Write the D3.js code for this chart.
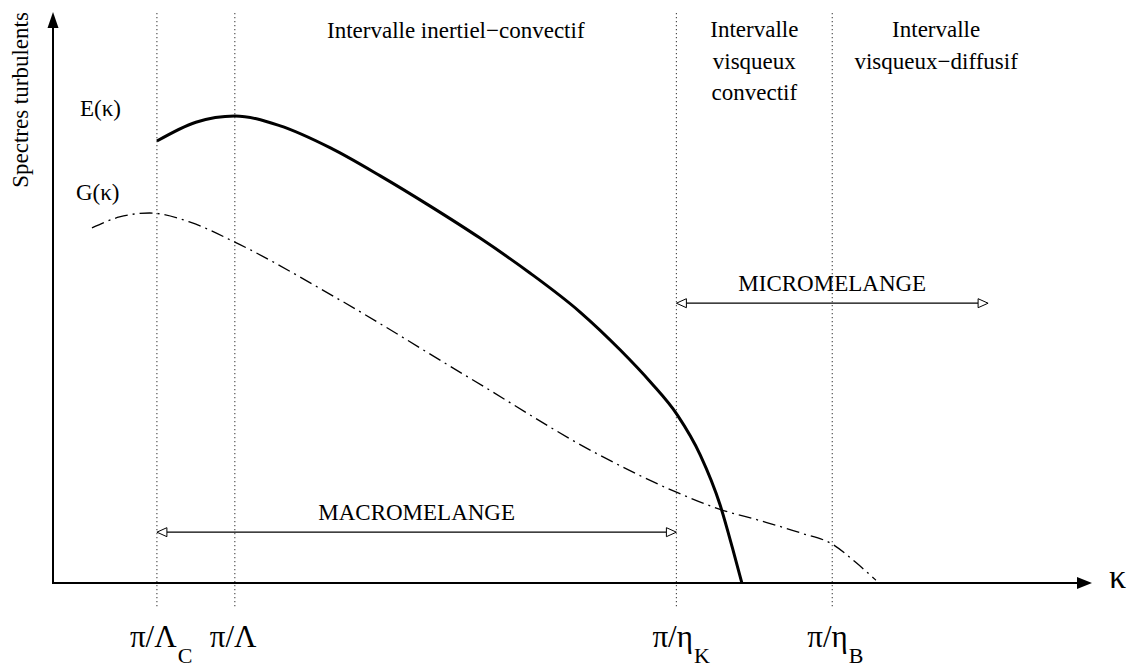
<!DOCTYPE html>
<html><head><meta charset="utf-8">
<script src="https://cdn.jsdelivr.net/npm/d3@7"></script>
<style>
html,body{margin:0;padding:0;background:#fff;}
svg{display:block;font-family:"Liberation Serif","Times New Roman",serif;}
</style></head>
<body>
<svg id="chart" width="1134" height="669"></svg>
<script>
// ---- data (abstract units: kappa 0..100, spectrum 0..100) ----
const eX = [10.0, 13.75, 17.5, 21.8, 26.7, 31.5, 36.3, 41.1, 45.9, 50.7, 54.6, 57.5, 60.1, 62.3, 64.2, 65.4, 66.3];
const eY = [77.4, 80.7, 81.8, 80.1, 76.2, 71.3, 66.0, 60.4, 54.3, 47.5, 40.8, 35.2, 29.4, 22.4, 13.7, 6.1, 0];
const gX = [3.75, 6.4, 9.3, 13.2, 17.5, 27.3, 40.1, 52.6, 60.0, 64.2, 68.1, 71.9, 75.1, 77.2, 79.2];
const gY = [62.2, 64.1, 64.8, 63.2, 59.7, 49.9, 35.9, 22.4, 15.9, 12.9, 10.9, 8.8, 6.7, 3.7, 0.5];
const markX = [10, 17.5, 60, 75];
const markMain = ["π/Λ", "π/Λ", "π/η", "π/η"];
const markSub = ["C", "", "K", "B"];
const rangeTitles = [["Intervalle inertiel−convectif"], ["Intervalle", "visqueux", "convectif"], ["Intervalle", "visqueux−diffusif"]];
const rangeCenters = [null, 67.5, 85];
const macro = {from: 10, to: 60, level: 8.9, label: "MACROMELANGE"};
const micro = {from: 60, to: 90, level: 49, label: "MICROMELANGE"};

const svg = d3.select("#chart");
const x = d3.scaleLinear().domain([0, 100]).range([53, 1092]);
const y = d3.scaleLinear().domain([0, 100]).range([583, 12]);

// dotted verticals
svg.selectAll("line.v").data(markX).join("line")
  .attr("x1", d => x(d)).attr("x2", d => x(d))
  .attr("y1", y(100) + 1).attr("y2", 607)
  .attr("stroke", "#444").attr("stroke-width", 1.1)
  .attr("stroke-dasharray", "1.3,2.7");

// axes
svg.append("line").attr("x1", x(0)).attr("x2", x(100) - 12).attr("y1", y(0)).attr("y2", y(0))
  .attr("stroke", "#000").attr("stroke-width", 2);
svg.append("line").attr("x1", x(0)).attr("x2", x(0)).attr("y1", y(0) + 1).attr("y2", y(100) + 12)
  .attr("stroke", "#000").attr("stroke-width", 2);
svg.append("path").attr("d", `M${x(100)},${y(0)} L${x(100) - 15},${y(0) - 6} L${x(100) - 15},${y(0) + 6} Z`).attr("fill", "#000");
svg.append("path").attr("d", `M${x(0)},${y(100)} L${x(0) - 5.5},${y(100) + 16} L${x(0) + 5.5},${y(100) + 16} Z`).attr("fill", "#000");

// curves
const line = d3.line().x(d => x(d[0])).y(d => y(d[1])).curve(d3.curveMonotoneX);
svg.append("path").attr("d", line(gX.map((v, i) => [v, gY[i]])))
  .attr("fill", "none").attr("stroke", "#000").attr("stroke-width", 1.3)
  .attr("stroke-dasharray", "13,5,2,5");
svg.append("path").attr("d", line(eX.map((v, i) => [v, eY[i]])))
  .attr("fill", "none").attr("stroke", "#000").attr("stroke-width", 3);

// double arrows
function dblArrow(a) {
  const yy = y(a.level), x1 = x(a.from), x2 = x(a.to);
  svg.append("line").attr("x1", x1 + 10).attr("x2", x2 - 10).attr("y1", yy).attr("y2", yy)
    .attr("stroke", "#000").attr("stroke-width", 1.2);
  svg.append("path").attr("d", `M${x1},${yy} L${x1 + 10},${yy - 4.5} L${x1 + 10},${yy + 4.5} Z`)
    .attr("fill", "#fff").attr("stroke", "#000").attr("stroke-width", 1);
  svg.append("path").attr("d", `M${x2},${yy} L${x2 - 10},${yy - 4.5} L${x2 - 10},${yy + 4.5} Z`)
    .attr("fill", "#fff").attr("stroke", "#000").attr("stroke-width", 1);
  svg.append("text").attr("x", (x1 + x2) / 2).attr("y", yy - 12).attr("text-anchor", "middle")
    .attr("font-size", 23).text(a.label);
}
dblArrow(macro);
dblArrow(micro);

// range titles
svg.append("text").attr("x", 327).attr("y", 38).attr("font-size", 23).text(rangeTitles[0][0]);
[1, 2].forEach(k => {
  const t = svg.append("text").attr("x", x(rangeCenters[k])).attr("y", 37)
    .attr("text-anchor", "middle").attr("font-size", 23);
  rangeTitles[k].forEach((s, i) => t.append("tspan").attr("x", x(rangeCenters[k])).attr("dy", i ? 31.5 : 0).text(s));
});

// curve labels
svg.append("text").attr("x", 80).attr("y", 116).attr("font-size", 23).text("E(κ)");
svg.append("text").attr("x", 76).attr("y", 200).attr("font-size", 23).text("G(κ)");

// axis titles
svg.append("text").attr("transform", "translate(28,100) rotate(-90)").attr("text-anchor", "middle")
  .attr("font-size", 23).text("Spectres turbulents");
svg.append("text").attr("x", 1109).attr("y", 588).attr("font-size", 34).text("κ");

// bottom tick labels
const offs = [-27, -25, -24, -25];
markX.forEach((m, i) => {
  const t = svg.append("text").attr("x", x(m) + offs[i]).attr("y", 647).attr("font-size", 31);
  t.append("tspan").text(markMain[i]);
  if (markSub[i]) t.append("tspan").attr("dx", 1).attr("dy", 16).attr("font-size", 22).text(markSub[i]);
});
</script>
</body></html>
